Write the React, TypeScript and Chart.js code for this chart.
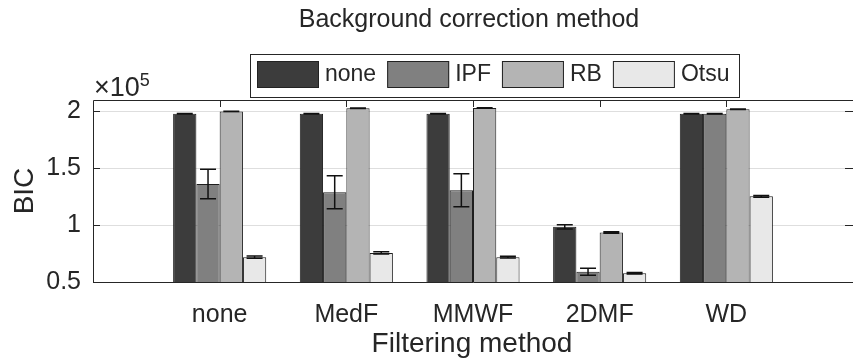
import React, { useEffect, useRef } from "react";
import { Chart, registerables } from "chart.js";

Chart.register(...registerables);

// ---- data (BIC in units of 10^5) ----
const categories = ["", "none", "MedF", "MMWF", "2DMF", "WD", ""];
const seriesNames = ["none", "IPF", "RB", "Otsu"];
const noneVals = [1.98, 1.98, 1.98, 0.985, 1.98];
const ipfVals = [1.362, 1.29, 1.306, 0.59, 1.98];
const rbVals = [2.0, 2.027, 2.03, 0.935, 2.018];
const otsuVals = [0.718, 0.756, 0.718, 0.577, 1.253];
const noneErr = [0.002, 0.002, 0.002, 0.018, 0.002];
const ipfErr = [0.13, 0.145, 0.145, 0.03, 0.002];
const rbErr = [0.002, 0.002, 0.002, 0.006, 0.002];
const otsuErr = [0.01, 0.01, 0.008, 0.006, 0.008];
const yTicks = [0.5, 1, 1.5, 2];
const yMin = 0.5;
const yMax = 2.1;
const titleText = "Background correction method";
const xTitle = "Filtering method";
const yTitle = "BIC";

const colors = ["#3c3c3c", "#808080", "#b4b4b4", "#e8e8e8"];
const FONT = "'Liberation Sans', Arial, sans-serif";
const INK = "#262626";

const pad = (arr: number[]) => [null, ...arr, null];

export default function App() {
  const ref = useRef<HTMLCanvasElement | null>(null);

  useEffect(() => {
    document.body.style.margin = "0";
    const canvas = ref.current;
    if (!canvas) return;
    const values = [noneVals, ipfVals, rbVals, otsuVals];
    const errs = [noneErr, ipfErr, rbErr, otsuErr];

    const errorBars = {
      id: "errorBars",
      afterDatasetsDraw(chart: any) {
        const ctx = chart.ctx;
        const ys = chart.scales.y;
        ctx.save();
        ctx.strokeStyle = "#111";
        ctx.lineWidth = 1.5;
        chart.data.datasets.forEach((ds: any, di: number) => {
          const meta = chart.getDatasetMeta(di);
          const e = errs[di];
          meta.data.forEach((el: any, i: number) => {
            const v = ds.data[i];
            if (v == null) return;
            const err = e[i - 1];
            const x = el.x;
            const yt = ys.getPixelForValue(v + err);
            const yb = ys.getPixelForValue(v - err);
            const cap = 8;
            ctx.beginPath();
            ctx.moveTo(x, yt);
            ctx.lineTo(x, yb);
            ctx.moveTo(x - cap, yt);
            ctx.lineTo(x + cap, yt);
            ctx.moveTo(x - cap, yb);
            ctx.lineTo(x + cap, yb);
            ctx.stroke();
          });
        });
        ctx.restore();
      },
    };

    const decor = {
      id: "decor",
      afterDraw(chart: any) {
        const ctx = chart.ctx;
        const a = chart.chartArea;
        const xs = chart.scales.x;
        const ys = chart.scales.y;
        ctx.save();
        // frame
        ctx.strokeStyle = INK;
        ctx.lineWidth = 1;
        ctx.beginPath();
        ctx.rect(Math.round(a.left) + 0.5, Math.round(a.top) + 0.5, a.right - a.left, a.bottom - a.top);
        ctx.stroke();
        // y ticks inside, left and right
        ctx.beginPath();
        yTicks.forEach((t) => {
          const y = Math.round(ys.getPixelForValue(t)) + 0.5;
          ctx.moveTo(a.left, y);
          ctx.lineTo(a.left + 7, y);
          ctx.moveTo(a.right, y);
          ctx.lineTo(a.right - 8, y);
        });
        // x ticks on top
        for (let i = 1; i < categories.length - 1; i++) {
          const x = Math.round(xs.getPixelForValue(i)) + 0.5;
          ctx.moveTo(x, a.top);
          ctx.lineTo(x, a.top + 7);
        }
        ctx.stroke();

        ctx.fillStyle = INK;
        // title
        ctx.font = `25px ${FONT}`;
        ctx.textAlign = "center";
        ctx.textBaseline = "alphabetic";
        ctx.fillText(titleText, 469, 27);
        // x title
        ctx.font = `28px ${FONT}`;
        ctx.fillText(xTitle, 472, 352);
        // y title
        ctx.save();
        ctx.translate(33, (a.top + a.bottom) / 2);
        ctx.rotate(-Math.PI / 2);
        ctx.fillText(yTitle, 0, 0);
        ctx.restore();
        // exponent
        ctx.textAlign = "left";
        ctx.font = `27px ${FONT}`;
        ctx.fillText("\u00d710", 94, 96);
        const w = ctx.measureText("\u00d710").width;
        ctx.font = `18px ${FONT}`;
        ctx.fillText("5", 94 + w, 86);

        // legend
        const lx0 = 250, ly0 = 54, lx1 = 739, ly1 = 97;
        ctx.fillStyle = "#fff";
        ctx.fillRect(lx0, ly0, lx1 - lx0, ly1 - ly0);
        ctx.strokeStyle = INK;
        ctx.strokeRect(lx0 + 0.5, ly0 + 0.5, lx1 - lx0, ly1 - ly0);
        ctx.font = `23px ${FONT}`;
        ctx.textBaseline = "middle";
        let x = 257;
        chart.data.datasets.forEach((ds: any) => {
          ctx.fillStyle = ds.backgroundColor;
          ctx.fillRect(x, 61, 62, 26);
          ctx.strokeStyle = "#222";
          ctx.strokeRect(x + 0.5, 61.5, 61, 26);
          ctx.fillStyle = INK;
          ctx.fillText(ds.label, x + 68, 75);
          const tw = ctx.measureText(ds.label).width;
          x = x + 68 + tw + 11;
        });
        ctx.restore();
      },
    };

    const chart = new Chart(canvas, {
      type: "bar",
      data: {
        labels: categories,
        datasets: seriesNames.map((name, i) => ({
          label: name,
          data: pad(values[i]) as any,
          backgroundColor: colors[i],
          borderColor: "#1e1e1e",
          borderWidth: 1,
          borderSkipped: false,
          categoryPercentage: 0.735,
          barPercentage: 1,
        })),
      },
      options: {
        animation: false,
        responsive: false,
        devicePixelRatio: 1,
        layout: { padding: { top: 100, left: 0, right: 0, bottom: 0 } },
        plugins: {
          legend: { display: false },
          title: { display: false },
          tooltip: { enabled: false },
        },
        scales: {
          x: {
            type: "category",
            offset: false,
            grid: { display: false, drawTicks: false },
            border: { display: false },
            ticks: {
              autoSkip: false,
              maxRotation: 0,
              padding: 18,
              color: INK,
              font: { family: FONT, size: 25 },
            },
            afterFit: (s: any) => {
              s.height = 79;
              s.paddingLeft = 0;
              s.paddingRight = 0;
            },
          },
          y: {
            type: "linear",
            min: yMin,
            max: yMax,
            grid: { color: "#dedede", drawTicks: false, lineWidth: 1 },
            border: { display: false },
            afterBuildTicks: (s: any) => {
              s.ticks = yTicks.map((v) => ({ value: v }));
            },
            ticks: {
              padding: 12,
              color: INK,
              font: { family: FONT, size: 25 },
              callback: (v: any) => String(v),
            },
            afterFit: (s: any) => {
              s.width = 93;
            },
          },
        },
      },
      plugins: [errorBars, decor],
    });
    return () => chart.destroy();
  }, []);

  return (
    <div style={{ width: 853, height: 361, background: "#fff" }}>
      <canvas ref={ref} width={853} height={361} style={{ display: "block" }} />
    </div>
  );
}
